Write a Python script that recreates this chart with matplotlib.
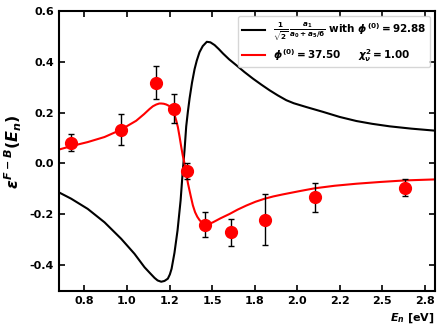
import matplotlib
matplotlib.use("Agg")
import matplotlib.pyplot as plt
from matplotlib.ticker import MultipleLocator, FormatStrFormatter

plt.rcParams['font.family'] = 'DejaVu Sans'
plt.rcParams['font.weight'] = 'bold'
plt.rcParams['mathtext.fontset'] = 'custom'
plt.rcParams['mathtext.rm'] = 'DejaVu Sans:bold'
plt.rcParams['mathtext.bf'] = 'DejaVu Sans:bold'
plt.rcParams['mathtext.it'] = 'DejaVu Sans:bold:italic'

# measured points with errors
energy = [0.672, 0.962, 1.172, 1.274, 1.352, 1.460, 1.613, 1.809, 2.103, 2.632]
eps = [0.082, 0.133, 0.317, 0.216, -0.030, -0.241, -0.271, -0.222, -0.133, -0.096]
eps_err = [0.035, 0.060, 0.065, 0.058, 0.033, 0.049, 0.053, 0.101, 0.057, 0.034]

# fitted curve (red)
fit_x = [0.597, 0.672, 0.769, 0.868, 0.962, 1.054, 1.100, 1.132, 1.152, 1.172,
         1.190, 1.201, 1.216, 1.231, 1.246, 1.260, 1.270, 1.279, 1.289, 1.299,
         1.309, 1.319, 1.328, 1.338, 1.348, 1.358, 1.375, 1.387, 1.400, 1.413,
         1.426, 1.443, 1.460, 1.480, 1.505, 1.550, 1.603, 1.650, 1.701, 1.755,
         1.809, 1.860, 1.916, 2.015, 2.103, 2.220, 2.348, 2.490, 2.632, 2.810]
fit_y = [0.054, 0.068, 0.084, 0.104, 0.132, 0.168, 0.194, 0.214, 0.225, 0.232,
         0.236, 0.236, 0.235, 0.232, 0.227, 0.219, 0.207, 0.192, 0.170, 0.143,
         0.105, 0.064, 0.030, 0.000, -0.040, -0.078, -0.130, -0.165, -0.192, -0.210,
         -0.223, -0.235, -0.241, -0.239, -0.232, -0.216, -0.199, -0.182, -0.166, -0.151,
         -0.139, -0.130, -0.122, -0.109, -0.098, -0.088, -0.080, -0.073, -0.067, -0.063]

# model curve (black)
mod_x = [0.597, 0.672, 0.769, 0.868, 0.966, 1.044, 1.103, 1.135, 1.162, 1.180,
         1.201, 1.220, 1.240, 1.252, 1.262, 1.279, 1.297, 1.315, 1.328, 1.338,
         1.348, 1.358, 1.368, 1.382, 1.397, 1.410, 1.426, 1.445, 1.469, 1.490,
         1.515, 1.540, 1.564, 1.600, 1.642, 1.690, 1.740, 1.790, 1.838, 1.886,
         1.936, 1.980, 2.054, 2.152, 2.250, 2.348, 2.440, 2.544, 2.670, 2.810]
mod_y = [-0.113, -0.139, -0.179, -0.232, -0.297, -0.356, -0.409, -0.432, -0.451, -0.461,
         -0.466, -0.463, -0.454, -0.437, -0.415, -0.352, -0.264, -0.146, -0.028, 0.051,
         0.146, 0.205, 0.257, 0.318, 0.371, 0.405, 0.438, 0.462, 0.479, 0.477,
         0.466, 0.450, 0.433, 0.410, 0.387, 0.360, 0.334, 0.310, 0.288, 0.268,
         0.249, 0.237, 0.222, 0.203, 0.183, 0.167, 0.156, 0.146, 0.137, 0.129]

fig = plt.figure(figsize=(4.43, 3.26), dpi=100)
ax = fig.add_axes([0.133, 0.107, 0.849, 0.859])

ax.plot(mod_x, mod_y, color='black', lw=1.5,
        label=r'$\frac{1}{\sqrt{2}}\,\frac{a_1}{a_0+a_5/6}$ with $\phi^{(0)}=92.88$')
ax.plot(fit_x, fit_y, color='red', lw=1.5,
        label=r'$\phi^{(0)}=37.50$     $\chi^2_\nu=1.00$')
ax.errorbar(energy, eps, yerr=eps_err, fmt='o', color='red', ecolor='black',
            elinewidth=1.0, capsize=2.5, capthick=1.0, markersize=8.5, zorder=3)

ax.set_xlim(0.6, 2.81)
ax.set_ylim(-0.503, 0.6)
ax.xaxis.set_major_locator(MultipleLocator(0.25))
ax.xaxis.set_major_formatter(FormatStrFormatter('%.1f'))
ax.yaxis.set_major_locator(MultipleLocator(0.2))
ax.yaxis.set_major_formatter(FormatStrFormatter('%.1f'))
ax.tick_params(direction='in', top=True, right=True, length=4, width=1.2, labelsize=8)
for s in ax.spines.values():
    s.set_linewidth(1.5)

ax.set_ylabel(r'$\varepsilon^{F-B}(E_n)$', fontsize=11.5)
ax.set_xlabel(r'$E_n$ [eV]', fontsize=8, fontweight='bold', loc='right')
ax.legend(loc='upper right', fontsize=7.5, handlelength=2.2, labelspacing=0.3,
          borderpad=0.35)

fig.savefig('out.png', dpi=100)
